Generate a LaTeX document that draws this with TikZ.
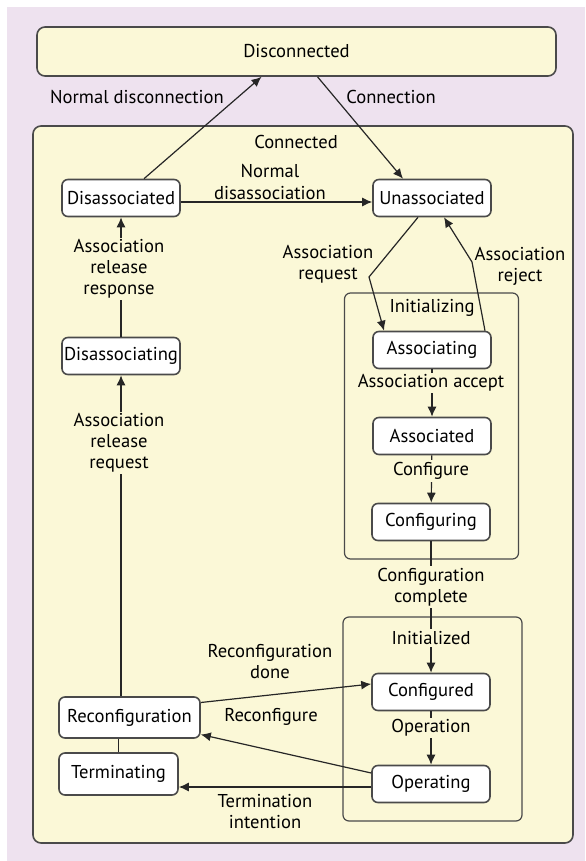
\documentclass[tikz,border=0pt]{standalone}
\usepackage{fontspec}
\setmainfont{PT Sans}
\usetikzlibrary{arrows.meta}
\definecolor{lavender}{HTML}{EEE2EF}
\definecolor{cream}{HTML}{FBF8D7}
\definecolor{edgegrey}{HTML}{4A4A4A}
\tikzset{
	statebox/.style={draw=edgegrey,fill=white,rounded corners=3pt,line width=0.8pt,inner sep=0pt,minimum width=59pt,minimum height=18.5pt,font=\fontsize{9.3}{11}\selectfont},
	framebox/.style={draw=edgegrey,rounded corners=3pt,line width=0.6pt,inner sep=0pt},
	evtlabel/.style={align=center,inner sep=1pt,font=\fontsize{9.3}{10.5}\selectfont},
	midlabel/.style={evtlabel,fill=cream},
	trans/.style={-{Latex[length=5pt,width=4.5pt]},line width=0.6pt,draw=black!85},
}
\begin{document}
\begin{tikzpicture}[x=0.5pt,y=-0.5pt]
	\useasboundingbox (0,0) rectangle (585,861);
	\fill[white] (0,0) rectangle (585,861);
	\fill[lavender] (7,7) rectangle (585,861);
	% frames
	\node[framebox,fill=cream,line width=0.8pt,rounded corners=4pt,minimum width=259.5pt,minimum height=24.5pt,font=\fontsize{9.3}{11}\selectfont](disc) at (296.5,51.5){Disconnected};
	\node[framebox,fill=cream,line width=0.8pt,rounded corners=4pt,minimum width=270pt,minimum height=358.5pt](conn) at (303,484.5){};
	\node[framebox,minimum width=87pt,minimum height=133pt](initing) at (431.5,426){};
	\node[framebox,minimum width=89.5pt,minimum height=102pt](inited) at (432.5,719){};
	\node[evtlabel](connlbl) at (296,142){Connected};
	% states
	\node[statebox](disas) at (121,198){Disassociated};
	\node[statebox](unas) at (432,198){Unassociated};
	\node[statebox](disng) at (121,356){Disassociating};
	\node[statebox,minimum width=70.5pt,minimum height=20.5pt](reconf) at (129.5,717.5){Reconfiguration};
	\node[statebox,minimum width=59.5pt,minimum height=21pt](term) at (118.5,774){Terminating};
	\node[statebox](assoc) at (432,350){Associating};
	\node[statebox](assocd) at (432,436){Associated};
	\node[statebox](confing) at (431,522){Configuring};
	\node[statebox](confd) at (431,692){Configured};
	\node[statebox](oper) at (431,784){Operating};
	\coordinate (reqbend) at (369,277);
	\coordinate (rejbend) at (472,262);
	% transitions
	\draw[trans]([xshift=11.5pt]disas.north)--([xshift=-17.5pt]disc.south);
	\draw[trans]([xshift=10.5pt]disc.south)--([xshift=-14.5pt]unas.north);
	\draw[trans]([yshift=-2pt]disas.east)--([yshift=-2pt]disas.east -| unas.west);
	\draw[trans](disng)--(disas);
	\draw[trans](reconf.north -| disng.south)--(disng);
	\draw[black!85,line width=0.6pt](term)--(term |- reconf.south);
	\draw[trans]([xshift=-7pt]unas.south)--(reqbend)--([xshift=-24pt]assoc.north);
	\draw[trans]([xshift=26.5pt]assoc.north)--(rejbend)--([xshift=6pt]unas.south);
	\draw[trans](assoc)--(assocd);
	\draw[trans](assocd)--(confing);
	\draw[trans](confing)--(confd);
	\draw[trans](confd)--(oper);
	\draw[trans]([yshift=7.5pt]reconf.east)--([yshift=4pt]confd.west);
	\draw[trans]([yshift=5.5pt]oper.west)--([yshift=-8.5pt]reconf.east);
	\draw[trans]([yshift=-1.5pt]oper.west)--([yshift=-1.5pt]oper.west -| term.east);
	% labels
	\node[evtlabel](discolbl) at (137,97){Normal disconnection};
	\node[evtlabel](cnlbl) at (391,97){Connection};
	\node[evtlabel](ndislbl) at (270,182){Normal\\disassociation};
	\node[midlabel](rresplbl) at (119,269){Association\\release\\response};
	\node[midlabel](rreqlbl) at (119,443){Association\\release\\request};
	\node[evtlabel](areqlbl) at (328,264){Association\\request};
	\node[evtlabel](arejlbl) at (520,266){Association\\reject};
	\node[midlabel](initinglbl) at (432,308){Initializing};
	\node[midlabel](acclbl) at (431,383){Association accept};
	\node[midlabel](cfglbl) at (431,471){Configure};
	\node[midlabel](cfgdonelbl) at (431,587){Configuration\\complete};
	\node[midlabel](initedlbl) at (431,638){Initialized};
	\node[midlabel](oplbl) at (431,728){Operation};
	\node[evtlabel](rdonelbl) at (270,662){Reconfiguration\\done};
	\node[evtlabel](rcfglbl) at (271,717){Reconfigure};
	\node[evtlabel](termlbl) at (265,812){Termination\\intention};
\end{tikzpicture}
\end{document}
